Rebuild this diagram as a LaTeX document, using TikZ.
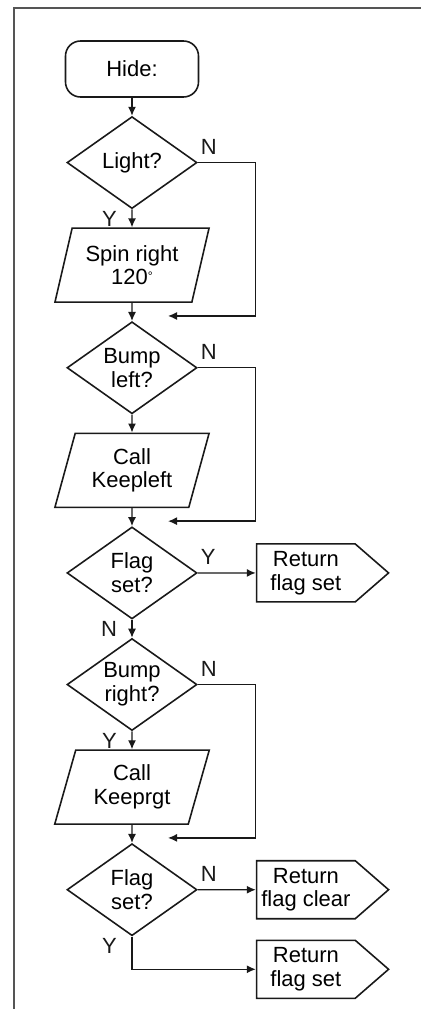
\documentclass[tikz,border=0pt]{standalone}
\usepackage{fontspec}
\setmainfont{Liberation Sans}
\usepackage{tikz}
\usetikzlibrary{positioning,arrows.meta,shapes.geometric,shapes.symbols,calc}
\definecolor{hideInk}{RGB}{25,25,25}
\definecolor{hideFrame}{RGB}{85,85,85}

\begin{document}
\begin{tikzpicture}[
  font=\fontsize{12.5}{13.5}\selectfont,
  startbox/.style={draw=hideInk, line width=0.9pt, rounded corners=0.3cm, align=center,
              minimum width=2.66cm, minimum height=1.12cm, inner sep=2pt},
  decision/.style={diamond, draw=hideInk, line width=0.9pt, align=center,
              minimum width=2.6cm, minimum height=1.84cm, inner sep=-0.25cm},
  io/.style={trapezium, trapezium left angle=73, trapezium right angle=107,
              trapezium stretches=true, draw=hideInk, line width=0.9pt, align=center,
              minimum width=3.1cm, minimum height=1.48cm, inner sep=2pt},
  retbox/.style={signal, signal to=east, signal from=nowhere, signal pointer angle=82,
              draw=hideInk, line width=0.9pt, align=center,
              minimum width=2.64cm, minimum height=1.16cm, inner sep=2pt},
  lbl/.style={inner sep=1pt, text=hideInk},
  arr/.style={-{Latex[length=1.8mm, width=1.6mm]}, line width=0.75pt, hideInk},
  frame/.style={line width=0.8pt, hideFrame}]
  \useasboundingbox (0,0) rectangle (8.42,-20.18);
  \draw[frame] (0.28,-20.18) -- (0.28,-0.16) -- (8.42,-0.16);

  \node[startbox] (start) at (2.64,-1.38) {Hide:};
  \node[decision, below=0.36cm of start] (light) {Light?};
  \node[io, below=0.36cm of light] (spin) {Spin right\\120{\scriptsize\raisebox{0.7ex}{°}}};
  \node[decision, below=0.36cm of spin] (bumpl) {Bump\\left?};
  \node[io, below=0.36cm of bumpl] (keepl) {Call\\Keepleft};
  \node[decision, below=0.36cm of keepl] (flaga) {Flag\\set?};
  \node[retbox, right=1.16cm of flaga] (reta) {Return\\flag set};
  \node[decision, below=0.36cm of flaga] (bumpr) {Bump\\right?};
  \node[io, below=0.36cm of bumpr] (keepr) {Call\\Keeprgt};
  \node[decision, below=0.36cm of keepr] (flagb) {Flag\\set?};
  \node[retbox, right=1.16cm of flagb] (retb) {Return\\flag clear};
  \node[retbox, below=0.4cm of retb] (retc) {Return\\flag set};

  % joins of the N branches
  \coordinate[below right=0.26cm and 0.72cm of spin.south] (joina);
  \coordinate[below right=0.26cm and 0.72cm of keepl.south] (joinb);
  \coordinate[below right=0.26cm and 0.72cm of keepr.south] (joinc);

  \draw[arr] (start) -- (light);
  \draw[arr] (light) -- (spin);
  \draw[arr] (spin) -- (bumpl);
  \draw[arr] (bumpl) -- (keepl);
  \draw[arr] (keepl) -- (flaga);
  \draw[arr] (flaga) -- (reta);
  \draw[arr] (flaga) -- (bumpr);
  \draw[arr] (bumpr) -- (keepr);
  \draw[arr] (keepr) -- (flagb);
  \draw[arr] (flagb) -- (retb);
  \draw[arr] (flagb.south) |- (retc.west);
  \draw[arr] (light.east) -- ++(1.16,0) |- (joina);
  \draw[arr] (bumpl.east) -- ++(1.16,0) |- (joinb);
  \draw[arr] (bumpr.east) -- ++(1.16,0) |- (joinc);

  % branch labels
  \node[lbl, anchor=south west, above right=0.12cm and 0.02cm of light.east] (nLight) {N};
  \node[lbl, anchor=south west, above right=0.12cm and 0.02cm of bumpl.east] (nBumpl) {N};
  \node[lbl, anchor=south west, above right=0.12cm and 0.02cm of flaga.east] (yFlaga) {Y};
  \node[lbl, anchor=south west, above right=0.12cm and 0.02cm of bumpr.east] (nBumpr) {N};
  \node[lbl, anchor=south west, above right=0.12cm and 0.02cm of flagb.east] (nFlagb) {N};
  \node[lbl, below left=0pt and 0.26cm of light.south] (yLight) {Y};
  \node[lbl, below left=0pt and 0.26cm of flaga.south] (nFlaga) {N};
  \node[lbl, below left=0pt and 0.26cm of bumpr.south] (yBumpr) {Y};
  \node[lbl, below left=0pt and 0.26cm of flagb.south] (yFlagb) {Y};
\end{tikzpicture}
\end{document}
